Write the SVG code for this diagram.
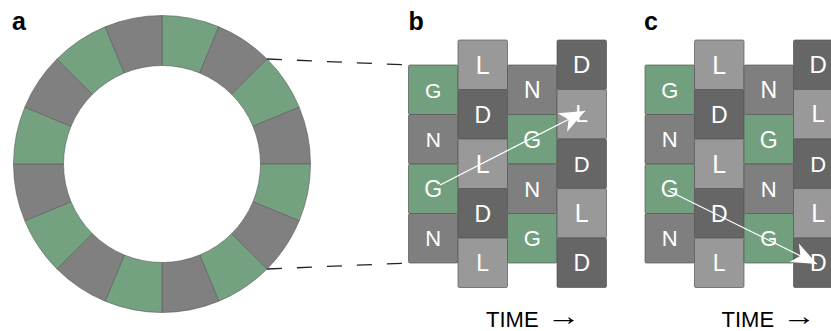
<svg xmlns="http://www.w3.org/2000/svg" width="831" height="331" viewBox="0 0 831 331">
  <defs>
    <style>
      .seg { stroke: #5a5a5a; stroke-width: 0.6; }
      .sg { fill: #74a17f; }
      .sd { fill: #808080; }
      .cell rect { stroke: #555; stroke-opacity: 0.7; stroke-width: 1; }
      .G rect { fill: #72a07e; }
      .N rect { fill: #7f7f7f; }
      .D rect { fill: #666666; }
      .L rect { fill: #999999; }
      .cell text { fill: #ffffff; font-family: "Liberation Sans", Arial, sans-serif; text-anchor: middle; }
      .lab { font-family: "Liberation Sans", Arial, sans-serif; font-weight: bold; font-size: 25px; fill: #000; }
      .axis { font-family: "Liberation Sans", Arial, sans-serif; font-size: 22px; fill: #000; }
      .arr { font-family: "Liberation Sans", Arial, sans-serif; font-size: 26px; fill: #000; }
      .dash { stroke: #222; stroke-width: 1.3; stroke-dasharray: 15 15; fill: none; }
      .trace { stroke: #fff; stroke-width: 1.2; fill: none; marker-end: url(#stealth); }
    </style>
    <marker id="stealth" markerUnits="userSpaceOnUse" orient="auto" refX="0" refY="0" markerWidth="30" markerHeight="30" viewBox="-24 -12 26 24" overflow="visible">
      <path d="M0,0 L-22,-9 L-16,0 L-22,9 Z" fill="#fff"/>
    </marker>
  </defs>

  <!-- panel labels -->
  <text class="lab" x="12" y="30">a</text>
  <text class="lab" x="408.5" y="30">b</text>
  <text class="lab" x="644" y="30">c</text>

  <!-- ring of 16 alternating segments -->
  <g id="ring">
    <path class="seg sg" d="M162,15.5 A148.5,148.5 0 0 1 218.83,26.8 L199.69,73 A98.5,98.5 0 0 0 162,65.5 Z"/>
    <path class="seg sd" d="M218.83,26.8 A148.5,148.5 0 0 1 267.01,58.99 L231.65,94.35 A98.5,98.5 0 0 0 199.69,73 Z"/>
    <path class="seg sg" d="M267.01,58.99 A148.5,148.5 0 0 1 299.2,107.17 L253,126.31 A98.5,98.5 0 0 0 231.65,94.35 Z"/>
    <path class="seg sd" d="M299.2,107.17 A148.5,148.5 0 0 1 310.5,164 L260.5,164 A98.5,98.5 0 0 0 253,126.31 Z"/>
    <path class="seg sg" d="M310.5,164 A148.5,148.5 0 0 1 299.2,220.83 L253,201.69 A98.5,98.5 0 0 0 260.5,164 Z"/>
    <path class="seg sd" d="M299.2,220.83 A148.5,148.5 0 0 1 267.01,269.01 L231.65,233.65 A98.5,98.5 0 0 0 253,201.69 Z"/>
    <path class="seg sg" d="M267.01,269.01 A148.5,148.5 0 0 1 218.83,301.2 L199.69,255 A98.5,98.5 0 0 0 231.65,233.65 Z"/>
    <path class="seg sd" d="M218.83,301.2 A148.5,148.5 0 0 1 162,312.5 L162,262.5 A98.5,98.5 0 0 0 199.69,255 Z"/>
    <path class="seg sg" d="M162,312.5 A148.5,148.5 0 0 1 105.17,301.2 L124.31,255 A98.5,98.5 0 0 0 162,262.5 Z"/>
    <path class="seg sd" d="M105.17,301.2 A148.5,148.5 0 0 1 56.99,269.01 L92.35,233.65 A98.5,98.5 0 0 0 124.31,255 Z"/>
    <path class="seg sg" d="M56.99,269.01 A148.5,148.5 0 0 1 24.8,220.83 L71,201.69 A98.5,98.5 0 0 0 92.35,233.65 Z"/>
    <path class="seg sd" d="M24.8,220.83 A148.5,148.5 0 0 1 13.5,164 L63.5,164 A98.5,98.5 0 0 0 71,201.69 Z"/>
    <path class="seg sg" d="M13.5,164 A148.5,148.5 0 0 1 24.8,107.17 L71,126.31 A98.5,98.5 0 0 0 63.5,164 Z"/>
    <path class="seg sd" d="M24.8,107.17 A148.5,148.5 0 0 1 56.99,58.99 L92.35,94.35 A98.5,98.5 0 0 0 71,126.31 Z"/>
    <path class="seg sg" d="M56.99,58.99 A148.5,148.5 0 0 1 105.17,26.8 L124.31,73 A98.5,98.5 0 0 0 92.35,94.35 Z"/>
    <path class="seg sd" d="M105.17,26.8 A148.5,148.5 0 0 1 162,15.5 L162,65.5 A98.5,98.5 0 0 0 124.31,73 Z"/>
  </g>

  <!-- panel b grid -->
  <g id="grid-b">
    <g id="b-c1r1" class="cell G"><rect x="408.5" y="65" width="49.5" height="49.5" rx="1.5"/><text x="433.25" y="97.5" font-size="21">G</text></g>
    <g id="b-c1r2" class="cell N"><rect x="408.5" y="114.5" width="49.5" height="49.5" rx="1.5"/><text x="433.25" y="147" font-size="21">N</text></g>
    <g id="b-c1r3" class="cell G"><rect x="408.5" y="164" width="49.5" height="49.5" rx="1.5"/><text x="433.25" y="197" font-size="23">G</text></g>
    <g id="b-c1r4" class="cell N"><rect x="408.5" y="213.5" width="49.5" height="49.5" rx="1.5"/><text x="433.25" y="246" font-size="22">N</text></g>

    <g id="b-c2r1" class="cell L"><rect x="458" y="40" width="49.5" height="49.5" rx="1.5"/><text x="482.75" y="73.5" font-size="25">L</text></g>
    <g id="b-c2r2" class="cell D"><rect x="458" y="89.5" width="49.5" height="49.5" rx="1.5"/><text x="482.75" y="122.5" font-size="23">D</text></g>
    <g id="b-c2r3" class="cell L"><rect x="458" y="139" width="49.5" height="49.5" rx="1.5"/><text x="482.75" y="172.5" font-size="25">L</text></g>
    <g id="b-c2r4" class="cell D"><rect x="458" y="188.5" width="49.5" height="49.5" rx="1.5"/><text x="482.75" y="221.5" font-size="23">D</text></g>
    <g id="b-c2r5" class="cell L"><rect x="458" y="238" width="49.5" height="49.5" rx="1.5"/><text x="482.75" y="271" font-size="23">L</text></g>

    <g id="b-c3r1" class="cell N"><rect x="507.5" y="65" width="49.5" height="49.5" rx="1.5"/><text x="532.25" y="98" font-size="23">N</text></g>
    <g id="b-c3r2" class="cell G"><rect x="507.5" y="114.5" width="49.5" height="49.5" rx="1.5"/><text x="532.25" y="147.5" font-size="23">G</text></g>
    <g id="b-c3r3" class="cell N"><rect x="507.5" y="164" width="49.5" height="49.5" rx="1.5"/><text x="532.25" y="196.5" font-size="22">N</text></g>
    <g id="b-c3r4" class="cell G"><rect x="507.5" y="213.5" width="49.5" height="49.5" rx="1.5"/><text x="532.25" y="246" font-size="22">G</text></g>

    <g id="b-c4r1" class="cell D"><rect x="557" y="40" width="49.5" height="49.5" rx="1.5"/><text x="581.75" y="73" font-size="24">D</text></g>
    <g id="b-c4r2" class="cell L"><rect x="557" y="89.5" width="49.5" height="49.5" rx="1.5"/><text x="581.75" y="122" font-size="23">L</text></g>
    <g id="b-c4r3" class="cell D"><rect x="557" y="139" width="49.5" height="49.5" rx="1.5"/><text x="581.75" y="171.5" font-size="22">D</text></g>
    <g id="b-c4r4" class="cell L"><rect x="557" y="188.5" width="49.5" height="49.5" rx="1.5"/><text x="581.75" y="222" font-size="25">L</text></g>
    <g id="b-c4r5" class="cell D"><rect x="557" y="238" width="49.5" height="49.5" rx="1.5"/><text x="581.75" y="271" font-size="23">D</text></g>
  </g>

  <!-- panel c grid (same layout, shifted right) -->
  <g id="grid-c" transform="translate(236.5,0)">
    <g id="c-c1r1" class="cell G"><rect x="408.5" y="65" width="49.5" height="49.5" rx="1.5"/><text x="433.25" y="97.5" font-size="22">G</text></g>
    <g id="c-c1r2" class="cell N"><rect x="408.5" y="114.5" width="49.5" height="49.5" rx="1.5"/><text x="433.25" y="147" font-size="22">N</text></g>
    <g id="c-c1r3" class="cell G"><rect x="408.5" y="164" width="49.5" height="49.5" rx="1.5"/><text x="433.25" y="197" font-size="23">G</text></g>
    <g id="c-c1r4" class="cell N"><rect x="408.5" y="213.5" width="49.5" height="49.5" rx="1.5"/><text x="433.25" y="246" font-size="22">N</text></g>

    <g id="c-c2r1" class="cell L"><rect x="458" y="40" width="49.5" height="49.5" rx="1.5"/><text x="482.75" y="73.5" font-size="25">L</text></g>
    <g id="c-c2r2" class="cell D"><rect x="458" y="89.5" width="49.5" height="49.5" rx="1.5"/><text x="482.75" y="122.5" font-size="23">D</text></g>
    <g id="c-c2r3" class="cell L"><rect x="458" y="139" width="49.5" height="49.5" rx="1.5"/><text x="482.75" y="172.5" font-size="25">L</text></g>
    <g id="c-c2r4" class="cell D"><rect x="458" y="188.5" width="49.5" height="49.5" rx="1.5"/><text x="482.75" y="221.5" font-size="23">D</text></g>
    <g id="c-c2r5" class="cell L"><rect x="458" y="238" width="49.5" height="49.5" rx="1.5"/><text x="482.75" y="271" font-size="23">L</text></g>

    <g id="c-c3r1" class="cell N"><rect x="507.5" y="65" width="49.5" height="49.5" rx="1.5"/><text x="532.25" y="98" font-size="23">N</text></g>
    <g id="c-c3r2" class="cell G"><rect x="507.5" y="114.5" width="49.5" height="49.5" rx="1.5"/><text x="532.25" y="147.5" font-size="23">G</text></g>
    <g id="c-c3r3" class="cell N"><rect x="507.5" y="164" width="49.5" height="49.5" rx="1.5"/><text x="532.25" y="196.5" font-size="22">N</text></g>
    <g id="c-c3r4" class="cell G"><rect x="507.5" y="213.5" width="49.5" height="49.5" rx="1.5"/><text x="532.25" y="246" font-size="22">G</text></g>

    <g id="c-c4r1" class="cell D"><rect x="557" y="40" width="49.5" height="49.5" rx="1.5"/><text x="581.75" y="73" font-size="24">D</text></g>
    <g id="c-c4r2" class="cell L"><rect x="557" y="89.5" width="49.5" height="49.5" rx="1.5"/><text x="581.75" y="122" font-size="24">L</text></g>
    <g id="c-c4r3" class="cell D"><rect x="557" y="139" width="49.5" height="49.5" rx="1.5"/><text x="581.75" y="171.5" font-size="22">D</text></g>
    <g id="c-c4r4" class="cell L"><rect x="557" y="188.5" width="49.5" height="49.5" rx="1.5"/><text x="581.75" y="222" font-size="25">L</text></g>
    <g id="c-c4r5" class="cell D"><rect x="557" y="238" width="49.5" height="49.5" rx="1.5"/><text x="581.75" y="271" font-size="23">D</text></g>
  </g>

  <!-- connectors: zoom guides from the ring, and the transition arrows -->
  <g id="connectors">
    <line class="dash" x1="267" y1="59" x2="408.5" y2="65"/>
    <line class="dash" x1="267" y1="269" x2="408.5" y2="263"/>
    <line class="trace" x1="440" y1="185" x2="585" y2="111"/>
    <line class="trace" x1="668" y1="190.5" x2="817" y2="264"/>
  </g>

  <!-- time axis captions; the arrow glyph is widened to a long thin arrow -->
  <g id="time-b">
    <text class="axis" x="486" y="326.5">TIME</text>
    <text class="arr" transform="translate(547,325) scale(1.3,1)">→</text>
  </g>
  <g id="time-c">
    <text class="axis" x="721.5" y="326.5">TIME</text>
    <text class="arr" transform="translate(782.5,325) scale(1.3,1)">→</text>
  </g>
</svg>
